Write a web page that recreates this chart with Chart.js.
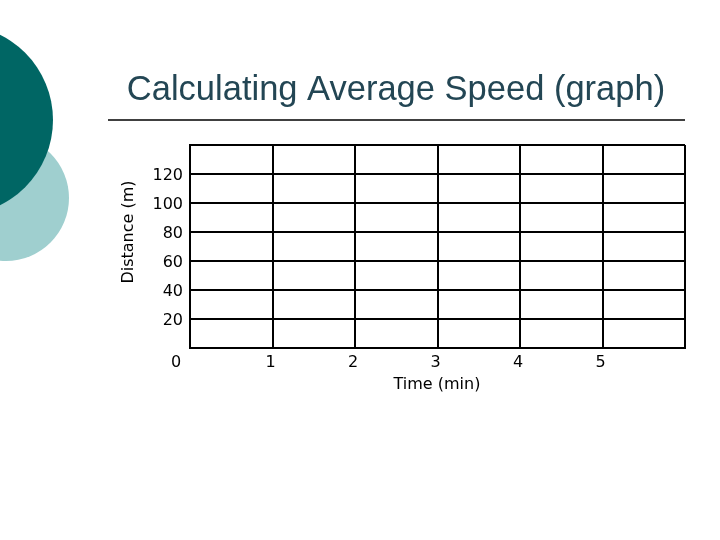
<!DOCTYPE html>
<html>
<head>
<meta charset="utf-8">
<script src="https://cdn.jsdelivr.net/npm/chart.js@4"></script>
<style>
  body { margin: 0; background: #fff; }
  #wrap { width: 720px; height: 540px; position: relative; }
</style>
</head>
<body>
<div id="wrap"><canvas id="chart" width="720" height="540"></canvas></div>
<script>
// Empty answer grid: time (min) vs distance (m)
const titleText = 'Calculating Average Speed (graph)';
const xTicks = [0, 1, 2, 3, 4, 5];
const yTicks = [20, 40, 60, 80, 100, 120];
const xMax = 6;
const yMax = 140;

// slide background + tick labels drawn with the chart's own scales
const slidePlugin = {
    id: 'slide',
    beforeDraw(chart) {
        const ctx = chart.ctx;
        ctx.save();
        ctx.fillStyle = '#9fcfcf';
        ctx.beginPath();
        ctx.arc(6, 198, 63, 0, Math.PI * 2);
        ctx.fill();
        ctx.fillStyle = '#006664';
        ctx.beginPath();
        ctx.arc(-42, 120, 95, 0, Math.PI * 2);
        ctx.fill();

        ctx.fillStyle = '#234654';
        ctx.font = '34.5px "Liberation Sans", Arial, sans-serif';
        ctx.textAlign = 'center';
        ctx.textBaseline = 'middle';
        ctx.fillText(titleText, 396, 90);
        ctx.strokeStyle = '#000';
        ctx.lineWidth = 1.5;
        ctx.beginPath();
        ctx.moveTo(108, 120);
        ctx.lineTo(685, 120);
        ctx.stroke();
        ctx.restore();
    },
    afterDraw(chart) {
        const ctx = chart.ctx;
        const x = chart.scales.x, y = chart.scales.y;
        ctx.save();
        ctx.fillStyle = '#000';
        ctx.font = '16px "DejaVu Sans", sans-serif';
        ctx.textBaseline = 'middle';
        ctx.textAlign = 'right';
        yTicks.forEach(v => ctx.fillText(String(v), 183, y.getPixelForValue(v) + 2));
        ctx.textAlign = 'center';
        xTicks.forEach(v => ctx.fillText(String(v), x.getPixelForValue(v) - (v === 0 ? 14 : 2), 363));
        ctx.fillText('Time (min)', 437, 385);
        ctx.translate(129, 232);
        ctx.rotate(-Math.PI / 2);
        ctx.fillText('Distance (m)', 0, 0);
        ctx.restore();
    }
};

new Chart(document.getElementById('chart'), {
    type: 'scatter',
    data: { datasets: [{ data: [] }] },
    options: {
        responsive: false,
        animation: false,
        layout: { padding: { left: 190, right: 35, top: 145, bottom: 192 } },
        plugins: { legend: { display: false }, tooltip: { enabled: false } },
        scales: {
            x: {
                min: 0, max: xMax,
                ticks: { display: false, stepSize: 1 },
                grid: { color: '#000', lineWidth: 2, drawTicks: false },
                border: { color: '#000', width: 2 }
            },
            y: {
                min: 0, max: yMax,
                ticks: { display: false, stepSize: 20 },
                grid: { color: '#000', lineWidth: 2, drawTicks: false },
                border: { color: '#000', width: 2 }
            }
        }
    },
    plugins: [slidePlugin]
});
</script>
</body>
</html>
